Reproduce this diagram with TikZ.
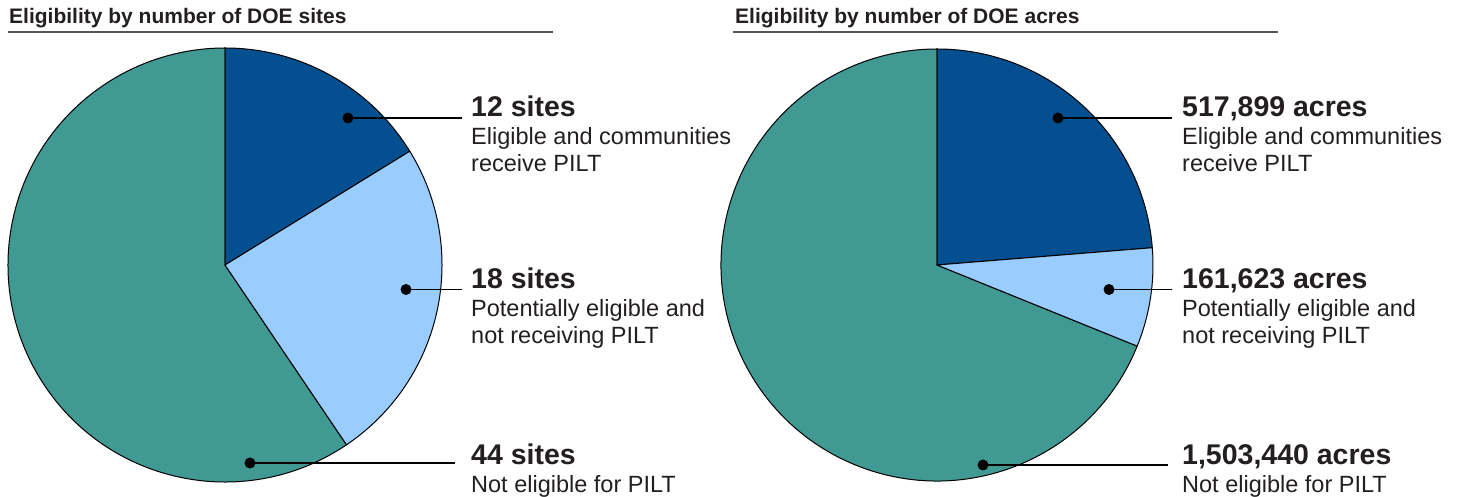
\documentclass[tikz,border=0pt]{standalone}
\usepackage{fontspec}
\setmainfont{Liberation Sans}
\definecolor{dkblue}{RGB}{4,79,143}
\definecolor{ltblue}{RGB}{153,204,255}
\definecolor{teal2}{RGB}{64,153,146}
\definecolor{txt}{RGB}{35,31,32}
\definecolor{rule}{RGB}{85,85,85}
\tikzset{
  slice/.style={draw=black, line width=1pt, line join=round},
  dotmark/.style={circle, fill=black, inner sep=0pt, minimum size=11pt},
  leader/.style={draw=black, line width=1.3pt},
  ttl/.style={anchor=base west, inner sep=0pt, text=txt, font=\fontsize{21}{24}\selectfont\bfseries},
  big/.style={anchor=base west, inner sep=0pt, text=txt, font=\fontsize{28.5}{32}\selectfont\bfseries},
  small/.style={anchor=base west, inner sep=0pt, text=txt, font=\fontsize{23.5}{27}\selectfont},
  hrule/.style={draw=rule, line width=2pt}
}
\begin{document}
\begin{tikzpicture}[x=1pt,y=1pt]
\useasboundingbox (0,0) rectangle (1464,497);
% titles
\node[ttl] (t1) at (9,473) {Eligibility by number of DOE sites};
\node[ttl] (t2) at (735,473) {Eligibility by number of DOE acres};
\coordinate (r1a) at (8,464.5);
\coordinate (r1b) at (553,464.5);
\coordinate (r2a) at (733,464.5);
\coordinate (r2b) at (1278,464.5);
\draw[hrule] (r1a) -- (r1b);
\draw[hrule] (r2a) -- (r2b);
% pie 1
\coordinate (c1) at (225,232);
\filldraw[slice, fill=teal2] (c1) -- ++(-55.946:217) arc (-55.946:-270:217) -- cycle;
\filldraw[slice, fill=dkblue] (c1) -- ++(31.622:217) arc (31.622:90:217) -- cycle;
\filldraw[slice, fill=ltblue] (c1) -- ++(-55.946:217) arc (-55.946:31.622:217) -- cycle;
% pie 2
\coordinate (c2) at (937,232);
\filldraw[slice, fill=teal2] (c2) -- ++(-22.06:216) arc (-22.06:-270:216) -- cycle;
\filldraw[slice, fill=dkblue] (c2) -- ++(4.59:216) arc (4.59:90:216) -- cycle;
\filldraw[slice, fill=ltblue] (c2) -- ++(-22.06:216) arc (-22.06:4.59:216) -- cycle;
% dots and leaders pie 1
\node[dotmark] (d1) at (348,379) {};
\node[dotmark] (d2) at (406,207.5) {};
\node[dotmark] (d3) at (250,34) {};
\coordinate (e1) at (462,379);
\coordinate (e2) at (462,207.5);
\coordinate (e3) at (455,34);
\draw[leader] (d1.center) -- (e1);
\draw[leader] (d2.center) -- (e2);
\draw[leader] (d3.center) -- (e3);
% dots and leaders pie 2
\node[dotmark] (d4) at (1058,379) {};
\node[dotmark] (d5) at (1109,207.5) {};
\node[dotmark] (d6) at (983,32) {};
\coordinate (e4) at (1172,379);
\coordinate (e5) at (1172,207.5);
\coordinate (e6) at (1168,32);
\draw[leader] (d4.center) -- (e4);
\draw[leader] (d5.center) -- (e5);
\draw[leader] (d6.center) -- (e6);
% labels pie 1
\node[big] (a1) at (471,380) {12 sites};
\node[small] (a2) at (471,352) {Eligible and communities};
\node[small] (a3) at (471,325) {receive PILT};
\node[big] (b1) at (471,208) {18 sites};
\node[small] (b2) at (471,180) {Potentially eligible and};
\node[small] (b3) at (471,153) {not receiving PILT};
\node[big] (c1t) at (471,32) {44 sites};
\node[small] (c2t) at (471,4) {Not eligible for PILT};
% labels pie 2
\node[big] (f1) at (1182,380) {517,899 acres};
\node[small] (f2) at (1182,352) {Eligible and communities};
\node[small] (f3) at (1182,325) {receive PILT};
\node[big] (g1) at (1182,208) {161,623 acres};
\node[small] (g2) at (1182,180) {Potentially eligible and};
\node[small] (g3) at (1182,153) {not receiving PILT};
\node[big] (h1) at (1182,32) {1,503,440 acres};
\node[small] (h2) at (1182,4) {Not eligible for PILT};
\end{tikzpicture}
\end{document}
